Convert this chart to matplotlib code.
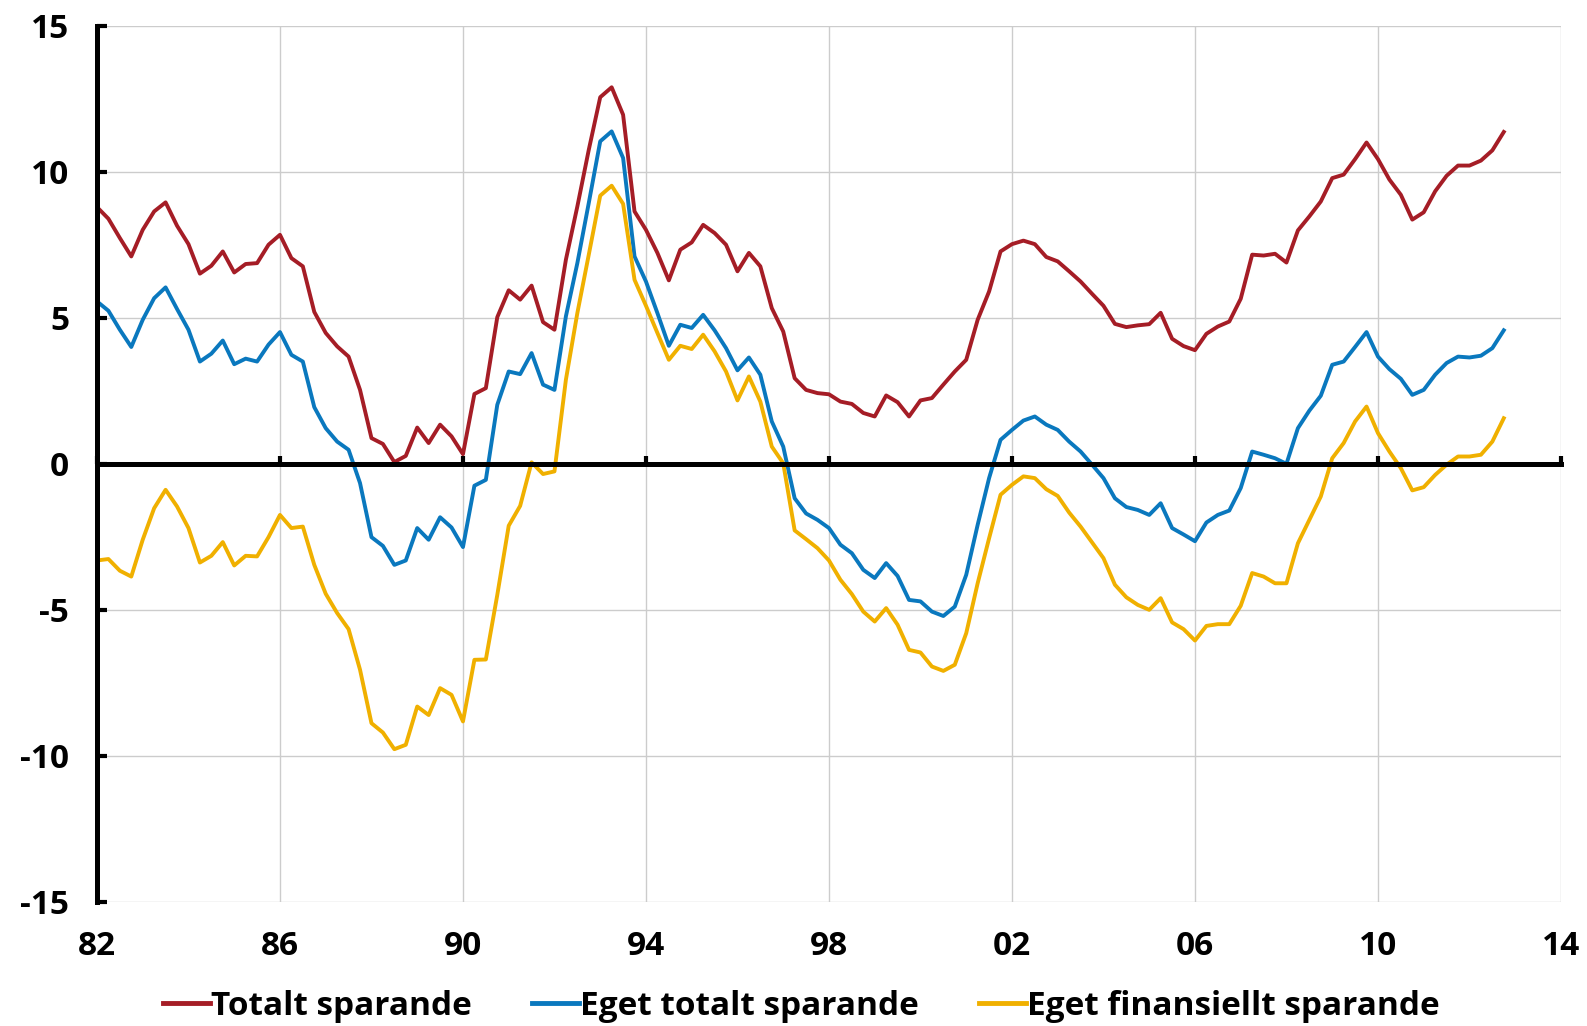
import numpy as np
import matplotlib
matplotlib.use("Agg")
import matplotlib.pyplot as plt

plt.rcParams['font.family'] = ['Open Sans', 'DejaVu Sans']
plt.rcParams['font.weight'] = 'bold'

# Quarterly data, 1982 Q1 - 2012 Q4
quarters = np.arange(1982, 2013, 0.25)

totalt = [
    8.79, 8.39, 7.73, 7.10, 8.01, 8.64, 8.95, 8.15, 7.52, 6.51,
    6.78, 7.27, 6.55, 6.84, 6.87, 7.50, 7.84, 7.04, 6.76, 5.20,
    4.48, 4.02, 3.67, 2.53, 0.88, 0.68, 0.06, 0.27, 1.24, 0.71,
    1.34, 0.94, 0.33, 2.39, 2.59, 5.02, 5.94, 5.62, 6.10, 4.85,
    4.59, 6.99, 8.81, 10.75, 12.55, 12.89, 11.95, 8.64, 8.01, 7.22,
    6.28, 7.33, 7.58, 8.18, 7.90, 7.50, 6.59, 7.22, 6.76, 5.33,
    4.53, 2.93, 2.53, 2.42, 2.38, 2.13, 2.05, 1.74, 1.62, 2.34,
    2.11, 1.62, 2.17, 2.25, 2.71, 3.16, 3.56, 4.93, 5.90, 7.27,
    7.52, 7.64, 7.52, 7.08, 6.93, 6.59, 6.24, 5.82, 5.41, 4.79,
    4.68, 4.74, 4.78, 5.17, 4.28, 4.03, 3.89, 4.45, 4.70, 4.87,
    5.65, 7.16, 7.13, 7.19, 6.89, 7.99, 8.47, 8.98, 9.78, 9.90,
    10.43, 11.00, 10.43, 9.73, 9.21, 8.36, 8.61, 9.33, 9.86, 10.21,
    10.21, 10.38, 10.73, 11.36,
]

eget_totalt = [
    5.56, 5.24, 4.59, 4.00, 4.93, 5.67, 6.04, 5.30, 4.59, 3.50,
    3.77, 4.22, 3.41, 3.60, 3.50, 4.08, 4.51, 3.73, 3.50, 1.94,
    1.22, 0.76, 0.48, -0.66, -2.51, -2.81, -3.46, -3.31, -2.20, -2.60,
    -1.83, -2.18, -2.85, -0.75, -0.55, 2.02, 3.16, 3.07, 3.79, 2.71,
    2.53, 5.05, 6.87, 8.93, 11.04, 11.38, 10.47, 7.10, 6.24, 5.16,
    4.04, 4.76, 4.65, 5.10, 4.57, 3.96, 3.20, 3.64, 3.05, 1.45,
    0.59, -1.18, -1.70, -1.92, -2.20, -2.77, -3.06, -3.63, -3.91, -3.40,
    -3.84, -4.66, -4.71, -5.06, -5.21, -4.89, -3.80, -2.09, -0.49, 0.82,
    1.16, 1.48, 1.62, 1.34, 1.16, 0.76, 0.42, -0.03, -0.49, -1.18,
    -1.48, -1.58, -1.75, -1.35, -2.20, -2.42, -2.65, -2.01, -1.75, -1.60,
    -0.83, 0.42, 0.31, 0.19, 0.00, 1.22, 1.82, 2.33, 3.39, 3.50,
    4.00, 4.51, 3.67, 3.24, 2.91, 2.36, 2.53, 3.05, 3.45, 3.67,
    3.64, 3.70, 3.96, 4.57,
]

eget_finansiellt = [
    -3.31, -3.26, -3.66, -3.86, -2.60, -1.52, -0.89, -1.46, -2.20, -3.38,
    -3.15, -2.68, -3.48, -3.15, -3.17, -2.51, -1.75, -2.20, -2.15, -3.46,
    -4.45, -5.11, -5.66, -7.05, -8.88, -9.20, -9.77, -9.62, -8.31, -8.60,
    -7.68, -7.91, -8.82, -6.71, -6.70, -4.49, -2.12, -1.44, 0.05, -0.35,
    -0.26, 2.88, 5.16, 7.16, 9.18, 9.52, 8.90, 6.30, 5.41, 4.48,
    3.56, 4.04, 3.93, 4.42, 3.85, 3.16, 2.17, 2.99, 2.13, 0.59,
    0.02, -2.28, -2.58, -2.89, -3.31, -3.97, -4.46, -5.06, -5.40, -4.94,
    -5.51, -6.37, -6.46, -6.94, -7.09, -6.88, -5.80, -4.09, -2.55, -1.06,
    -0.72, -0.43, -0.49, -0.87, -1.10, -1.67, -2.15, -2.69, -3.23, -4.14,
    -4.57, -4.83, -5.00, -4.60, -5.43, -5.66, -6.05, -5.55, -5.49, -5.49,
    -4.86, -3.74, -3.86, -4.09, -4.09, -2.72, -1.92, -1.12, 0.19, 0.71,
    1.45, 1.96, 1.05, 0.42, -0.15, -0.91, -0.80, -0.38, -0.03, 0.25,
    0.25, 0.31, 0.76, 1.56,
]

x_ticks = np.arange(1982, 2015, 4)
x_labels = ['82', '86', '90', '94', '98', '02', '06', '10', '14']
y_ticks = [-15, -10, -5, 0, 5, 10, 15]
y_labels = ['-15', '-10', '-5', '0', '5', '10', '15']

fig = plt.figure(figsize=(15.87, 10.26), dpi=100)
ax = fig.add_axes([0.0611, 0.1209, 0.9225, 0.8541])

ax.plot(quarters, totalt, color='#a51d26', lw=2.8, label='Totalt sparande')
ax.plot(quarters, eget_totalt, color='#0a78be', lw=2.8, label='Eget totalt sparande')
ax.plot(quarters, eget_finansiellt, color='#f0b000', lw=2.8, label='Eget finansiellt sparande')

ax.set_xlim(1982, 2014)
ax.set_ylim(-15, 15)
ax.set_xticks(x_ticks)
ax.set_yticks(y_ticks)
ax.set_yticklabels(y_labels, fontsize=24, fontweight='bold')
ax.grid(True, color='#cccccc', lw=1)
ax.set_axisbelow(True)

# spines: left thick, bottom moved to zero
for s in ['top', 'right']:
    ax.spines[s].set_visible(False)
ax.spines['left'].set_linewidth(3.6)
ax.spines['bottom'].set_position(('data', 0))
ax.spines['bottom'].set_linewidth(3.6)
ax.spines['bottom'].set_zorder(5)
ax.tick_params(axis='x', direction='in', length=6, width=3, labelbottom=False)
ax.tick_params(axis='y', direction='in', length=7, width=3, pad=20)

# x labels at the bottom of the plot
sec = ax.secondary_xaxis('bottom')
sec.set_xticks(x_ticks)
sec.set_xticklabels(x_labels, fontsize=24, fontweight='bold')
sec.tick_params(length=0, pad=20)
sec.spines['bottom'].set_visible(False)

leg = fig.legend(loc='center', bbox_to_anchor=(0.505, 0.019), ncol=3, frameon=False,
                 prop={'size': 24, 'weight': 'bold'}, handlelength=1.4, handletextpad=0.05,
                 columnspacing=1.8)
for h in leg.get_lines():
    h.set_linewidth(3.5)

fig.savefig('out.png', dpi=100)
